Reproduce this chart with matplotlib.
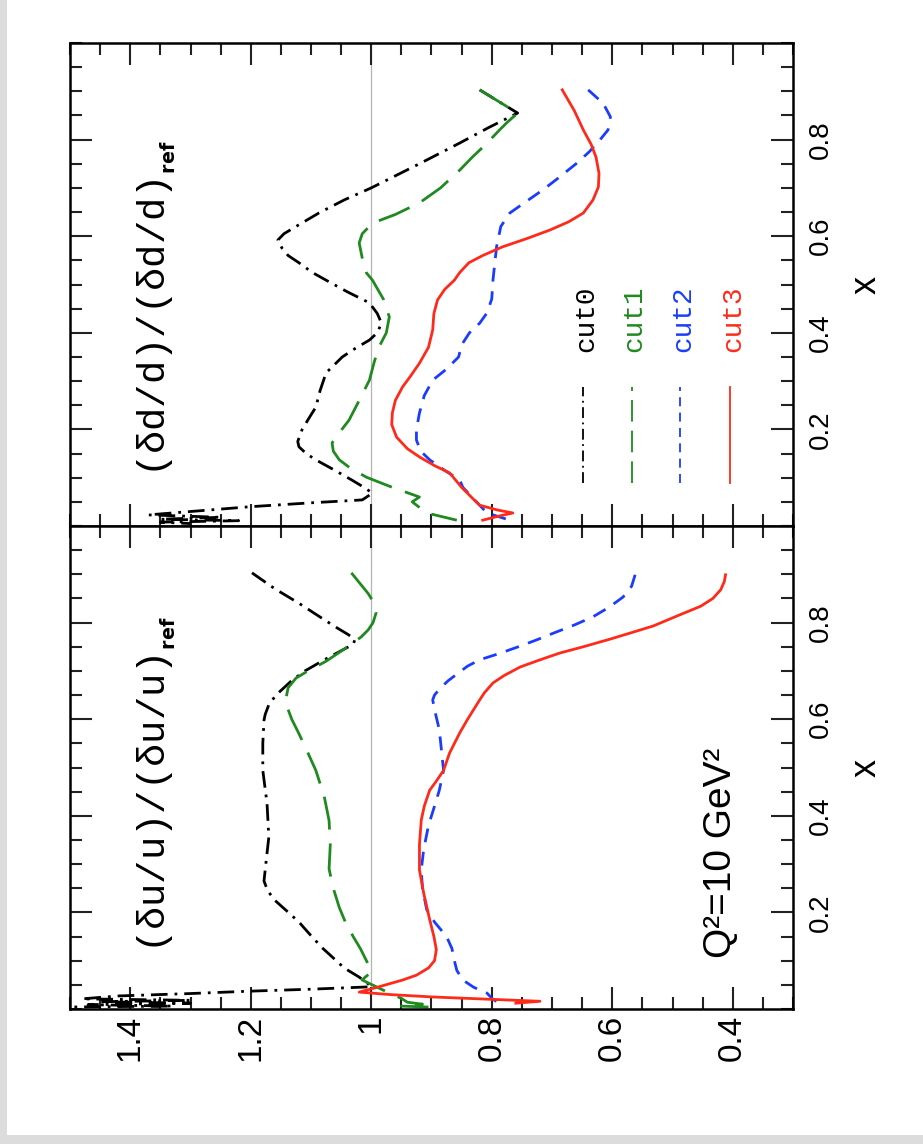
"""
Ratio plot (delta u/u and delta d/d relative to reference), drawn rotated 90 degrees
like the scanned original: ratio runs horizontally, x runs upward.
"""
import matplotlib
matplotlib.use('Agg')
import matplotlib.pyplot as plt
from matplotlib.patches import Rectangle
from matplotlib.ticker import FixedLocator, MultipleLocator, FixedFormatter

# ---------------------------------------------------------------------------
# data: (x, ratio)
# ---------------------------------------------------------------------------
# --- panel delta u / u ---
u_cut0_x = [0.903, 0.87, 0.84, 0.81, 0.79, 0.775, 0.765, 0.755, 0.745, 0.725, 0.70, 0.68,
            0.665, 0.65, 0.63, 0.61, 0.598, 0.55, 0.494, 0.426, 0.356, 0.30, 0.265, 0.245,
            0.225, 0.205, 0.18, 0.149, 0.125, 0.108, 0.085, 0.066, 0.052, 0.046,
            0.041, 0.037, 0.032, 0.027, 0.021, 0.018, 0.015, 0.012, 0.009, 0.006, 0.003]
u_cut0_r = [1.198, 1.16, 1.12, 1.083, 1.058, 1.038, 1.027, 1.03, 1.045, 1.075, 1.11, 1.132,
            1.145, 1.158, 1.17, 1.176, 1.178, 1.18, 1.18, 1.173, 1.17, 1.175, 1.178, 1.172,
            1.16, 1.142, 1.12, 1.098, 1.08, 1.065, 1.045, 1.02, 1.005, 1.0,
            1.1, 1.2, 1.3, 1.42, 1.48, 1.3, 1.45, 1.3, 1.47, 1.33, 1.6]

u_cut1_x = [0.903, 0.88, 0.86, 0.84, 0.82, 0.80, 0.785, 0.77, 0.745, 0.72, 0.70, 0.685,
            0.665, 0.64, 0.62, 0.60, 0.57, 0.53, 0.494, 0.44, 0.39, 0.34, 0.29, 0.25, 0.21,
            0.18, 0.15, 0.125, 0.10, 0.085, 0.076, 0.066, 0.06, 0.045, 0.033, 0.022, 0.014,
            0.01, 0.006, 0.004]
u_cut1_r = [1.033, 1.018, 1.005, 0.995, 0.992, 0.997, 1.005, 1.017, 1.045, 1.075, 1.105, 1.125,
            1.138, 1.142, 1.138, 1.132, 1.12, 1.105, 1.092, 1.078, 1.07, 1.068, 1.07, 1.063, 1.053,
            1.043, 1.03, 1.018, 1.008, 1.002, 1.0, 1.01, 1.015, 0.99, 0.97, 0.95, 0.94,
            0.915, 0.95, 0.905]

u_cut2_x = [0.899, 0.875, 0.853, 0.832, 0.812, 0.795, 0.778, 0.763, 0.749, 0.735, 0.723,
            0.71, 0.698, 0.68, 0.665, 0.65, 0.64, 0.62, 0.578, 0.494, 0.453, 0.42, 0.38,
            0.33, 0.288, 0.25, 0.206, 0.18, 0.15, 0.125, 0.10, 0.08, 0.06, 0.045, 0.033,
            0.02, 0.012, 0.005]
u_cut2_r = [0.562, 0.568, 0.582, 0.605, 0.632, 0.663, 0.698, 0.728, 0.758, 0.79, 0.82,
            0.84, 0.853, 0.872, 0.885, 0.895, 0.898, 0.895, 0.887, 0.88, 0.887, 0.895, 0.905,
            0.913, 0.917, 0.915, 0.908, 0.895, 0.875, 0.866, 0.862, 0.858, 0.848, 0.83, 0.808,
            0.798, 0.787, 0.79]

u_cut3_x = [0.899, 0.885, 0.868, 0.85, 0.834, 0.815, 0.793, 0.78, 0.766, 0.75, 0.737,
            0.722, 0.708, 0.69, 0.675, 0.655, 0.64, 0.60, 0.572, 0.53, 0.494, 0.47, 0.453,
            0.42, 0.391, 0.34, 0.288, 0.24, 0.185, 0.15, 0.123, 0.10, 0.085, 0.07, 0.06,
            0.045, 0.035, 0.030, 0.025, 0.02, 0.016, 0.012]
u_cut3_r = [0.412, 0.414, 0.42, 0.433, 0.453, 0.49, 0.532, 0.566, 0.603, 0.648, 0.687,
            0.722, 0.753, 0.78, 0.798, 0.812, 0.82, 0.84, 0.853, 0.87, 0.88, 0.893, 0.903,
            0.912, 0.917, 0.92, 0.92, 0.913, 0.903, 0.896, 0.892, 0.895, 0.905, 0.925, 0.948,
            0.99, 1.02, 0.97, 0.90, 0.80, 0.72, 0.76]

# --- panel delta d / d ---
d_cut0_x = [0.903, 0.88, 0.855, 0.825, 0.793, 0.75, 0.70, 0.675, 0.648, 0.62, 0.605,
            0.592, 0.575, 0.56, 0.545, 0.525, 0.509, 0.485, 0.462, 0.44, 0.42, 0.40, 0.385,
            0.365, 0.35, 0.317, 0.28, 0.246, 0.22, 0.199, 0.175, 0.164, 0.15, 0.137, 0.115,
            0.095, 0.08, 0.068, 0.054, 0.048, 0.04, 0.03, 0.023, 0.018, 0.014, 0.011,
            0.008, 0.005]
d_cut0_r = [0.82, 0.79, 0.757, 0.805, 0.853, 0.92, 1.0, 1.045, 1.087, 1.125, 1.145,
            1.155, 1.148, 1.138, 1.12, 1.098, 1.075, 1.04, 1.003, 0.99, 0.983, 0.99, 1.003,
            1.03, 1.048, 1.075, 1.085, 1.092, 1.105, 1.115, 1.122, 1.12, 1.108, 1.092, 1.06,
            1.032, 1.012, 0.998, 1.015, 1.1, 1.2, 1.3, 1.37, 1.25, 1.35, 1.22,
            1.35, 1.3]

d_cut1_x = [0.903, 0.88, 0.855, 0.835, 0.82, 0.79, 0.764, 0.737, 0.70, 0.669, 0.645,
            0.627, 0.605, 0.586, 0.555, 0.524, 0.509, 0.47, 0.433, 0.40, 0.371, 0.34, 0.302,
            0.26, 0.219, 0.19, 0.172, 0.155, 0.137, 0.12, 0.101, 0.08, 0.06, 0.05, 0.027,
            0.012]
d_cut1_r = [0.82, 0.79, 0.757, 0.775, 0.787, 0.81, 0.832, 0.853, 0.885, 0.92, 0.96,
            0.998, 1.015, 1.02, 1.015, 1.008, 0.998, 0.98, 0.97, 0.975, 0.987, 0.995, 1.003,
            1.02, 1.037, 1.055, 1.065, 1.063, 1.053, 1.035, 1.008, 0.965, 0.92, 0.932, 0.908,
            0.858]

d_cut2_x = [0.903, 0.875, 0.847, 0.82, 0.80, 0.775, 0.752, 0.72, 0.696, 0.67, 0.648,
            0.62, 0.578, 0.509, 0.47, 0.441, 0.42, 0.40, 0.375, 0.35, 0.325, 0.302, 0.27,
            0.234, 0.20, 0.178, 0.155, 0.137, 0.115, 0.095, 0.08, 0.043, 0.027, 0.012]
d_cut2_r = [0.64, 0.615, 0.603, 0.607, 0.62, 0.638, 0.658, 0.69, 0.715, 0.745, 0.77,
            0.785, 0.792, 0.798, 0.80, 0.808, 0.82, 0.837, 0.85, 0.855, 0.875, 0.898, 0.912,
            0.92, 0.925, 0.925, 0.918, 0.903, 0.878, 0.853, 0.848, 0.82, 0.808, 0.77]

d_cut3_x = [0.903, 0.86, 0.82, 0.79, 0.764, 0.73, 0.702, 0.675, 0.648, 0.63, 0.613,
            0.595, 0.578, 0.56, 0.545, 0.525, 0.509, 0.49, 0.468, 0.44, 0.406, 0.37, 0.337,
            0.31, 0.288, 0.26, 0.234, 0.21, 0.184, 0.16, 0.143, 0.125, 0.11, 0.08, 0.055,
            0.043, 0.033, 0.027, 0.02, 0.012]
d_cut3_r = [0.683, 0.663, 0.648, 0.635, 0.627, 0.622, 0.623, 0.632, 0.648, 0.672, 0.703,
            0.742, 0.782, 0.815, 0.838, 0.853, 0.862, 0.878, 0.89, 0.896, 0.898, 0.905, 0.92,
            0.935, 0.948, 0.96, 0.965, 0.966, 0.958, 0.94, 0.92, 0.895, 0.87, 0.85, 0.83,
            0.82, 0.79, 0.765, 0.79, 0.815]

ratio_ticks = [1.4, 1.2, 1.0, 0.8, 0.6, 0.4]
ratio_labels = ['1.4', '1.2', '1', '0.8', '0.6', '0.4']
x_ticks = [0.2, 0.4, 0.6, 0.8]
x_labels = ['0.2', '0.4', '0.6', '0.8']
cut_names = ['cut0', 'cut1', 'cut2', 'cut3']

# ---------------------------------------------------------------------------
# styles
# ---------------------------------------------------------------------------
cores = ['black', '#1f8a1f', '#1a3cff', '#ff2a1a']
estilos = [(0, (6, 2.5, 1, 2.5)), (0, (12, 5)), (0, (5, 3.5)), '-']

fig = plt.figure(figsize=(9.23, 11.44), dpi=100, facecolor='white')

# gray scan border (left and bottom)
fig.patches.append(Rectangle((0, 0), 7 / 923, 1, transform=fig.transFigure,
                             facecolor='#dcdcdc', edgecolor='none', zorder=-5))
fig.patches.append(Rectangle((0, 0), 1, 9 / 1144, transform=fig.transFigure,
                             facecolor='#dcdcdc', edgecolor='none', zorder=-5))

ax_d = fig.add_axes([70 / 923, 1 - 526 / 1144, 723 / 923, 483 / 1144])
ax_u = fig.add_axes([70 / 923, 1 - 1009 / 1144, 723 / 923, 483 / 1144])

paineis = [
    (ax_u, [(u_cut0_r, u_cut0_x), (u_cut1_r, u_cut1_x), (u_cut2_r, u_cut2_x), (u_cut3_r, u_cut3_x)]),
    (ax_d, [(d_cut0_r, d_cut0_x), (d_cut1_r, d_cut1_x), (d_cut2_r, d_cut2_x), (d_cut3_r, d_cut3_x)]),
]

for ax, series in paineis:
    ax.set_xlim(1.5, 0.3)
    ax.set_ylim(0, 1)
    ax.axvline(1.0, color='#b4b4b4', lw=0.9, zorder=0)
    for (r, x), cor, ls in zip(series, cores, estilos):
        ax.plot(r, x, color=cor, ls=ls, lw=2.0, solid_joinstyle='round')

    ax.xaxis.set_major_locator(FixedLocator(ratio_ticks))
    ax.xaxis.set_major_formatter(FixedFormatter(ratio_labels))
    ax.xaxis.set_minor_locator(MultipleLocator(0.05))
    ax.yaxis.set_major_locator(FixedLocator(x_ticks))
    ax.yaxis.set_major_formatter(FixedFormatter(x_labels))
    ax.yaxis.set_minor_locator(MultipleLocator(0.05))

    ax.tick_params(which='both', direction='in', top=True, bottom=True,
                   left=True, right=True, width=1.5, color='#222222')
    ax.tick_params(which='major', length=16)
    ax.tick_params(which='minor', length=8.5)
    ax.tick_params(axis='y', labelleft=False, labelright=True, labelrotation=90,
                   labelsize=20, pad=11)
    for lab in ax.get_yticklabels():
        lab.set_va('center')
        lab.set_family('Liberation Sans')
    for sp in ax.spines.values():
        sp.set_linewidth(1.8)

    ax.yaxis.set_label_position('right')
    ax.set_ylabel('x', rotation=90, fontsize=26, family='Liberation Sans', labelpad=10)

ax_d.tick_params(axis='x', labelbottom=False)
ax_u.tick_params(axis='x', labelbottom=True, labelrotation=90, labelsize=24, pad=4)
for lab in ax_u.get_xticklabels():
    lab.set_family('Liberation Sans')

# panel titles (read bottom to top), "ref" as a small subscript
ax_u.text(0.12, 0.116, r'(δu/u)/(δu/u)$_{_\mathbf{ref}}$', transform=ax_u.transAxes,
          rotation=90, ha='center', va='bottom', fontsize=28, family='Liberation Mono')
ax_d.text(0.12, 0.101, r'(δd/d)/(δd/d)$_{_\mathbf{ref}}$', transform=ax_d.transAxes,
          rotation=90, ha='center', va='bottom', fontsize=28, family='Liberation Mono')

ax_u.text(0.90, 0.106, 'Q²=10 GeV²', transform=ax_u.transAxes, rotation=90,
          ha='center', va='bottom', fontsize=28, family='Liberation Sans')

# legend drawn by hand (vertical lines + rotated names)
leg_x = [0.7095, 0.777, 0.844, 0.913]
for nome, cor, ls, lx in zip(cut_names, cores, estilos, leg_x):
    ax_d.plot([lx, lx], [0.089, 0.288], transform=ax_d.transAxes, color=cor, ls=ls, lw=1.3)
    ax_d.text(lx + 0.004, 0.36, nome, transform=ax_d.transAxes, rotation=90, color=cor,
              ha='center', va='bottom', fontsize=20, family='Liberation Mono')

plt.savefig('out.png', dpi=100, facecolor='white')
plt.close()
